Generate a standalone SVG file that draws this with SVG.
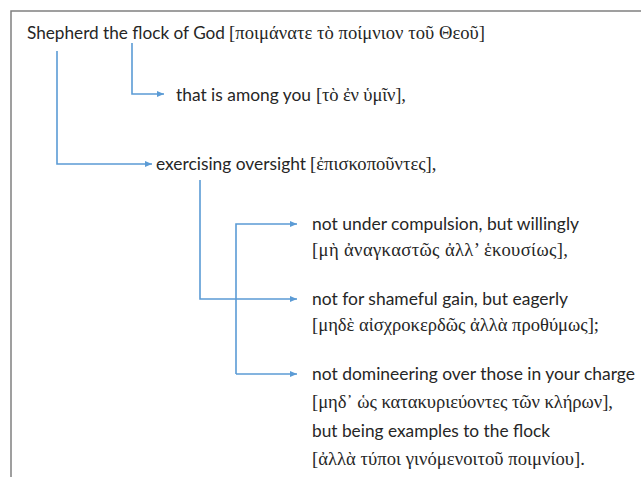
<svg xmlns="http://www.w3.org/2000/svg" width="641" height="477" viewBox="0 0 641 477">
<style>
.en{font-family:Lato,"Open Sans","Liberation Sans",sans-serif;font-size:17.5px;fill:#262626}
.gr{font-family:"Liberation Serif","DejaVu Serif",serif;font-size:18.6px;fill:#262626}
.frame{fill:none;stroke:#808080;stroke-width:1.5}
.con{fill:none;stroke:#5B9BD5;stroke-width:1.6}
</style>
<defs>
<marker id="ah" markerUnits="userSpaceOnUse" markerWidth="8" markerHeight="7" refX="7" refY="3" orient="auto"><path d="M0,0 L7,3 L0,6 z" fill="#5B9BD5"/></marker>
</defs>
<path class="frame" d="M11,477 V11 H641"/>
<g id="connectors">
<path class="con" d="M57,51 V164 H152" marker-end="url(#ah)"/>
<path class="con" d="M132,43 V94 H164" marker-end="url(#ah)"/>
<path class="con" d="M200,180 V299 H297" marker-end="url(#ah)"/>
<path class="con" d="M236,374 V224 H297" marker-end="url(#ah)"/>
<path class="con" d="M236,374 H297" marker-end="url(#ah)"/>
</g>
<g id="n-shepherd">
<text class="en" x="27" y="39" textLength="198" lengthAdjust="spacingAndGlyphs">Shepherd the flock of God</text>
<text class="gr" x="229" y="39" textLength="256" lengthAdjust="spacing">[ποιμάνατε τὸ ποίμνιον τοῦ Θεοῦ]</text>
</g>
<g id="n-among">
<text class="en" x="176" y="100.5" textLength="135" lengthAdjust="spacingAndGlyphs">that is among you</text>
<text class="gr" x="316" y="100.5" textLength="90" lengthAdjust="spacing">[τὸ ἐν ὑμῖν],</text>
</g>
<g id="n-oversight">
<text class="en" x="156" y="170" textLength="150" lengthAdjust="spacingAndGlyphs">exercising oversight</text>
<text class="gr" x="310" y="170">[ἐπισκοποῦντες],</text>
</g>
<g id="n-compulsion">
<text class="en" x="312" y="229.5" textLength="267" lengthAdjust="spacingAndGlyphs">not under compulsion, but willingly</text>
<text class="gr" x="312" y="256" textLength="256" lengthAdjust="spacing">[μὴ ἀναγκαστῶς ἀλλ’ ἑκουσίως],</text>
</g>
<g id="n-gain">
<text class="en" x="312" y="304.5" textLength="256" lengthAdjust="spacingAndGlyphs">not for shameful gain, but eagerly</text>
<text class="gr" x="312" y="331" textLength="287" lengthAdjust="spacing">[μηδὲ αἰσχροκερδῶς ἀλλὰ προθύμως];</text>
</g>
<g id="n-domineering">
<text class="en" x="312" y="380" textLength="323" lengthAdjust="spacingAndGlyphs">not domineering over those in your charge</text>
<text class="gr" x="312" y="408" textLength="301" lengthAdjust="spacing">[μηδ᾽ ὡς κατακυριεύοντες τῶν κλήρων],</text>
<text class="en" x="312" y="437" textLength="238" lengthAdjust="spacingAndGlyphs">but being examples to the flock</text>
<text class="gr" x="312" y="465" textLength="273" lengthAdjust="spacing">[ἀλλὰ τύποι γινόμενοιτοῦ ποιμνίου].</text>
</g>
</svg>
